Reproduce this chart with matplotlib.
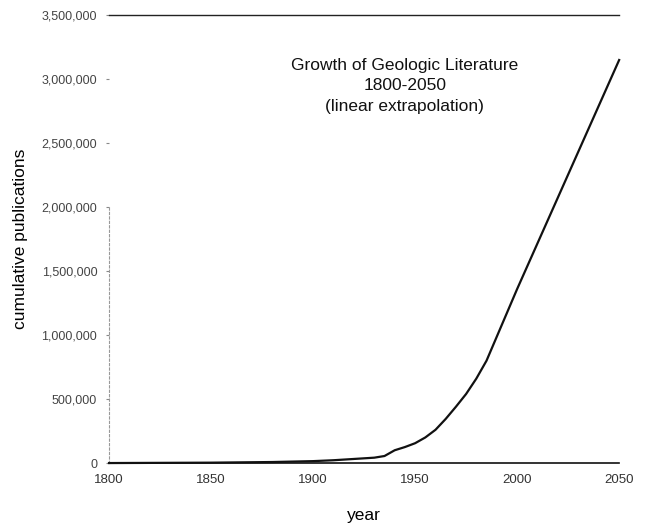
import matplotlib
matplotlib.use("Agg")
import matplotlib.pyplot as plt
from matplotlib.ticker import FuncFormatter

years = [1800, 1850, 1880, 1900, 1910, 1920, 1930, 1935, 1940, 1945, 1950,
         1955, 1960, 1965, 1970, 1975, 1980, 1985, 2000, 2050]
values = [0, 3000, 8000, 15000, 22000, 32000, 42000, 55000, 100000, 125000, 155000,
          200000, 260000, 345000, 440000, 540000, 660000, 800000, 1360000, 3150000]

x_ticks = [1800, 1850, 1900, 1950, 2000, 2050]
y_ticks = [0, 500000, 1000000, 1500000, 2000000, 2500000, 3000000, 3500000]

plt.rcParams['font.family'] = ['Liberation Sans', 'DejaVu Sans']

fig = plt.figure(figsize=(6.49, 5.25), dpi=100)
ax = fig.add_axes([0.168, 0.118, 0.786, 0.853])

ax.plot(years, values, color='#111111', lw=1.6, clip_on=False, zorder=3)

ax.set_xlim(1800, 2050)
ax.set_ylim(0, 3500000)
ax.set_xticks(x_ticks)
ax.set_yticks(y_ticks)
ax.yaxis.set_major_formatter(FuncFormatter(lambda v, p: f"{int(v):,}"))

ax.tick_params(axis='x', length=0, pad=8, labelsize=9.5, labelcolor='#333333')
ax.tick_params(axis='y', length=2.5, width=0.8, color='#888888', pad=6,
               labelsize=9, labelcolor='#444444')

ax.spines['right'].set_visible(False)
ax.spines['top'].set_color('#222222')
ax.spines['top'].set_linewidth(1.0)
ax.spines['bottom'].set_color('#111111')
ax.spines['bottom'].set_linewidth(1.2)
ax.spines['left'].set_color('#999999')
ax.spines['left'].set_linewidth(0.8)
ax.spines['left'].set_linestyle((0, (2, 2)))
ax.spines['left'].set_bounds(0, 2000000)

ax.set_xlabel('year', fontsize=12.5, labelpad=16)
ax.set_ylabel('cumulative publications', fontsize=12.5, labelpad=10)

ax.text(0.58, 0.842, 'Growth of Geologic Literature\n1800-2050\n(linear extrapolation)',
        transform=ax.transAxes, ha='center', va='center', fontsize=12.5,
        linespacing=1.42, color='#111111')

fig.savefig('out.png', dpi=100)
